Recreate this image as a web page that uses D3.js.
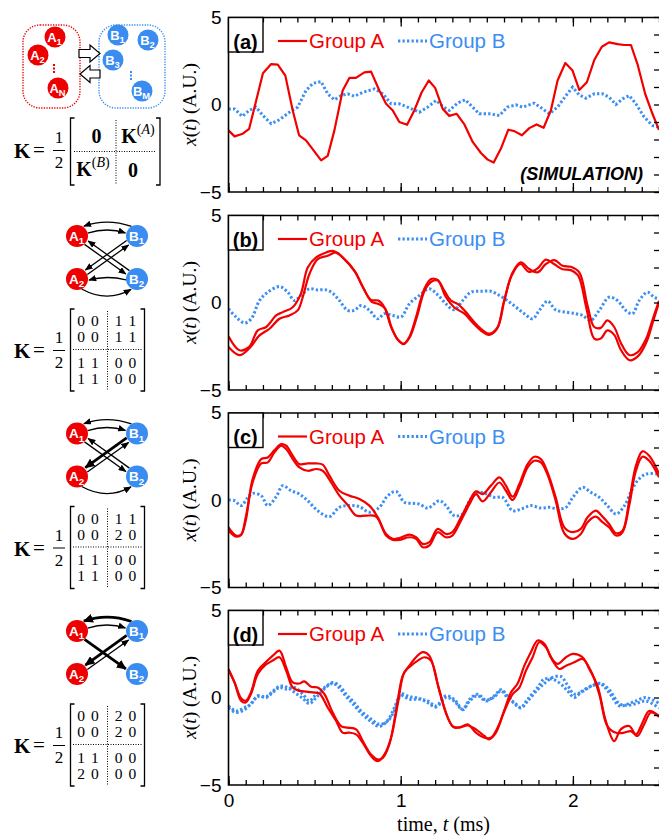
<!DOCTYPE html>
<html>
<head>
<meta charset="utf-8">
<script src="https://cdn.jsdelivr.net/npm/d3@7"></script>
<style>
  body { margin: 0; background: #fff; }
  svg { display: block; }
</style>
</head>
<body>
<svg id="fig" width="659" height="836"></svg>
<script>
/* ---------- data ---------- */
const timeTicks = [0, 1, 2];
const valueTicks = [-5, 0, 5];
const panelLabels = ["(a)", "(b)", "(c)", "(d)"];
const groupNames = ["Group A", "Group B"];

// [t (ms), x (A.U.)]
const aRedA = [[0,-1.48],[0.035,-1.82],[0.083,-1.67],[0.12,-1.39],[0.2,1.78],[0.248,2.31],[0.286,2.28],[0.33,1.65],[0.373,-0.34],[0.41,-1.76],[0.45,-2.05],[0.538,-3.19],[0.576,-2.94],[0.615,-1.48],[0.663,0.8],[0.702,1.52],[0.74,1.52],[0.789,1.84],[0.828,1.88],[0.876,0.8],[0.915,0.04],[0.954,-0.34],[0.992,-1.0],[1.037,-1.16],[1.079,-0.34],[1.122,0.7],[1.163,1.37],[1.2,0.95],[1.244,-0.25],[1.282,-0.65],[1.325,-0.53],[1.37,-1.14],[1.418,-2.14],[1.466,-2.77],[1.505,-3.15],[1.54,-3.32],[1.582,-2.52],[1.625,-1.44],[1.66,-1.52],[1.704,-1.76],[1.747,-1.35],[1.789,-1.14],[1.83,-1.33],[1.872,-0.34],[1.911,1.37],[1.956,2.37],[1.998,1.94],[2.037,0.83],[2.081,1.27],[2.124,2.54],[2.168,3.3],[2.21,3.55],[2.26,3.45],[2.298,3.4],[2.337,3.4],[2.375,2.31],[2.42,0.6],[2.462,-0.53],[2.5,-1.45]];
const aBlueB = [[0,-0.25],[0.035,-0.25],[0.08,-0.68],[0.12,-0.34],[0.16,-0.15],[0.2,-0.63],[0.248,-1.1],[0.296,-0.87],[0.354,-0.44],[0.402,-0.15],[0.45,0.8],[0.49,1.21],[0.538,1.31],[0.576,0.61],[0.615,0.27],[0.654,0.51],[0.692,0.61],[0.731,0.47],[0.78,0.7],[0.847,0.89],[0.896,0.61],[0.944,0.04],[0.992,0.04],[1.05,-0.19],[1.108,-0.44],[1.157,-0.15],[1.205,0.23],[1.244,-0.11],[1.282,-0.34],[1.33,0.08],[1.375,0.27],[1.418,-0.15],[1.456,-0.53],[1.514,-0.53],[1.573,-0.63],[1.62,-0.15],[1.669,-0.02],[1.708,-0.15],[1.776,0.08],[1.824,-0.25],[1.863,-0.53],[1.911,-0.15],[1.96,0.51],[1.998,0.99],[2.037,0.55],[2.075,0.36],[2.124,0.61],[2.172,0.61],[2.21,0.42],[2.25,0],[2.288,0.32],[2.327,0.51],[2.366,0.04],[2.414,-0.72],[2.462,-1.2],[2.5,-1.3]];

const bRedA1 = [[0,-1.93],[0.064,-2.73],[0.12,-2.54],[0.17,-1.59],[0.219,-1.4],[0.277,-0.74],[0.315,-0.55],[0.373,-0.27],[0.42,0.49],[0.46,2.0],[0.509,2.58],[0.567,2.86],[0.605,2.95],[0.663,2.58],[0.731,1.82],[0.78,0.87],[0.828,0.15],[0.87,0.11],[0.905,-0.27],[0.944,-1.4],[0.983,-2.12],[1.017,-2.35],[1.05,-1.97],[1.089,-0.83],[1.137,0.78],[1.176,1.34],[1.215,1.29],[1.253,0.68],[1.292,0.11],[1.33,-0.08],[1.37,-0.45],[1.418,-1.02],[1.466,-1.5],[1.514,-1.78],[1.563,-1.4],[1.602,0.11],[1.65,1.72],[1.698,2.29],[1.747,1.91],[1.795,1.72],[1.843,2.2],[1.892,2.42],[1.94,2.1],[1.988,2.04],[2.037,1.72],[2.085,-0.17],[2.124,-1.4],[2.162,-1.45],[2.2,-1.02],[2.24,-1.4],[2.278,-2.3],[2.327,-3.0],[2.375,-2.85],[2.424,-2.1],[2.462,-1.0],[2.5,0.1]];
const bRedA2 = [[0,-2.54],[0.064,-3.01],[0.12,-2.63],[0.18,-1.88],[0.238,-1.5],[0.296,-0.93],[0.354,-0.74],[0.402,-0.45],[0.431,0.3],[0.47,1.63],[0.518,2.48],[0.576,2.67],[0.625,2.86],[0.67,2.5],[0.735,1.75],[0.785,0.8],[0.83,0.05],[0.87,-0.08],[0.91,-0.35],[0.948,-1.45],[0.985,-2.15],[1.017,-2.38],[1.052,-2.0],[1.092,-0.9],[1.14,0.7],[1.18,1.2],[1.215,1.25],[1.263,0.3],[1.31,-0.27],[1.37,-0.64],[1.418,-1.15],[1.466,-1.6],[1.514,-1.85],[1.56,-1.5],[1.598,0.0],[1.645,1.55],[1.695,2.2],[1.745,1.75],[1.795,1.95],[1.843,2.45],[1.89,2.2],[1.94,1.9],[1.988,1.85],[2.03,1.55],[2.08,-0.4],[2.124,-2.06],[2.162,-2.06],[2.2,-1.59],[2.24,-1.85],[2.278,-2.7],[2.33,-3.3],[2.38,-3.05],[2.43,-2.2],[2.465,-1.1],[2.5,0.0]];
const bBlueB = [[0,-0.36],[0.044,-0.83],[0.093,-1.17],[0.132,-0.93],[0.18,0.11],[0.228,0.59],[0.296,0.91],[0.344,0.59],[0.383,0.11],[0.42,0.4],[0.47,0.78],[0.518,0.72],[0.567,0.72],[0.605,0.53],[0.644,0.11],[0.692,-0.45],[0.731,-0.45],[0.77,-0.17],[0.818,-0.45],[0.867,-0.93],[0.905,-0.64],[0.954,-0.74],[1.002,-0.83],[1.05,-0.08],[1.108,0.4],[1.166,0.78],[1.215,0.44],[1.263,-0.08],[1.31,-0.42],[1.36,0.11],[1.408,0.59],[1.466,0.64],[1.524,0.64],[1.573,0.4],[1.62,0.11],[1.67,-0.27],[1.718,-0.64],[1.766,-0.93],[1.805,-0.45],[1.853,0.08],[1.9,-0.42],[1.96,-0.55],[2.017,-0.64],[2.056,-0.74],[2.104,-1.02],[2.153,-0.45],[2.21,0.3],[2.259,0.11],[2.307,-0.45],[2.346,-0.64],[2.385,0.11],[2.433,0.59],[2.472,0.3],[2.5,0.21]];

const cRedA1 = [[0,-1.56],[0.044,-2.03],[0.073,-1.98],[0.1,-1.18],[0.14,1.2],[0.19,2.34],[0.228,2.43],[0.267,2.85],[0.306,3.19],[0.335,3.1],[0.373,2.53],[0.412,2.05],[0.46,2.09],[0.509,2.09],[0.547,2.02],[0.586,1.39],[0.644,0.53],[0.702,0.25],[0.76,0.06],[0.818,-0.32],[0.867,-0.99],[0.915,-1.94],[0.954,-2.22],[0.992,-2.17],[1.05,-1.98],[1.089,-2.13],[1.128,-2.51],[1.166,-2.41],[1.215,-1.65],[1.263,-1.94],[1.3,-1.84],[1.35,-0.99],[1.4,-0.04],[1.437,0.49],[1.476,0.34],[1.524,0.82],[1.573,1.29],[1.611,0.82],[1.65,0.19],[1.689,0.91],[1.737,2.05],[1.776,2.47],[1.814,2.34],[1.853,1.58],[1.9,0.15],[1.95,-1.56],[1.998,-1.84],[2.046,-1.65],[2.085,-0.99],[2.133,-0.61],[2.172,-0.95],[2.21,-1.37],[2.25,-1.9],[2.288,-1.75],[2.327,-0.04],[2.366,1.96],[2.404,2.78],[2.443,2.53],[2.5,1.5]];
const cRedA2 = [[0,-1.75],[0.044,-2.09],[0.073,-2.0],[0.1,-0.99],[0.14,1.0],[0.19,2.09],[0.228,2.15],[0.267,2.72],[0.306,3.1],[0.335,2.91],[0.373,2.34],[0.412,1.86],[0.46,1.67],[0.509,1.77],[0.547,1.67],[0.596,1.0],[0.644,0.25],[0.692,-0.29],[0.741,-0.89],[0.799,-0.89],[0.857,-0.95],[0.915,-2.03],[0.954,-2.28],[0.992,-2.28],[1.05,-2.13],[1.089,-2.22],[1.128,-2.7],[1.166,-2.6],[1.215,-1.84],[1.263,-2.13],[1.3,-2.03],[1.35,-1.18],[1.4,-0.23],[1.437,0.34],[1.476,-0.08],[1.524,0.44],[1.573,1.0],[1.611,0.53],[1.65,0.0],[1.689,0.72],[1.737,1.86],[1.776,2.24],[1.814,2.15],[1.853,1.44],[1.9,-0.04],[1.95,-1.9],[1.998,-2.22],[2.046,-1.94],[2.085,-1.27],[2.133,-0.95],[2.172,-1.27],[2.21,-1.56],[2.25,-2.03],[2.288,-1.84],[2.327,-0.32],[2.366,1.67],[2.404,2.47],[2.443,2.24],[2.5,1.3]];
const cBlueB = [[0,0],[0.035,-0.04],[0.073,-0.32],[0.11,0.11],[0.14,0.38],[0.19,0.25],[0.228,-0.32],[0.277,0.19],[0.315,0.82],[0.364,0.53],[0.412,0.34],[0.46,-0.04],[0.518,-0.61],[0.586,-0.95],[0.644,-0.42],[0.702,-0.32],[0.76,-0.38],[0.818,-0.7],[0.876,-0.42],[0.925,0.25],[0.973,0.49],[1.021,-0.13],[1.07,-0.19],[1.108,-0.23],[1.157,-0.46],[1.224,-0.04],[1.263,-0.32],[1.31,-0.89],[1.36,-0.8],[1.4,-0.04],[1.447,0.44],[1.5,0.34],[1.544,0.15],[1.592,0.15],[1.65,-0.61],[1.7,-0.51],[1.756,-0.32],[1.814,-0.46],[1.863,-0.42],[1.911,-0.51],[1.96,-0.42],[2.0,0.15],[2.056,0.72],[2.104,0.44],[2.153,0.15],[2.2,-0.32],[2.25,-0.8],[2.3,-0.32],[2.34,0.53],[2.375,1.1],[2.424,1.48],[2.5,1.48]];

const dRedA1 = [[0,1.57],[0.035,0.86],[0.073,-0.04],[0.1,-0.19],[0.13,0.29],[0.17,1.53],[0.21,1.95],[0.257,2.39],[0.296,2.68],[0.335,1.72],[0.373,0.86],[0.412,0.8],[0.44,0.92],[0.48,0.61],[0.518,0.57],[0.557,0.19],[0.605,-0.86],[0.654,-1.63],[0.692,-1.72],[0.741,-1.82],[0.78,-2.49],[0.828,-3.26],[0.867,-3.54],[0.896,-3.45],[0.934,-2.68],[0.973,-0.77],[1.012,1.25],[1.05,1.82],[1.089,2.3],[1.128,2.59],[1.166,2.39],[1.215,0.77],[1.263,-0.86],[1.3,-1.63],[1.34,-1.72],[1.389,-1.6],[1.437,-1.82],[1.486,-2.2],[1.514,-2.39],[1.553,-2.01],[1.6,-0.77],[1.64,0.29],[1.679,0.8],[1.718,1.82],[1.756,2.59],[1.795,3.26],[1.834,3.07],[1.873,2.3],[1.911,1.92],[1.96,2.3],[2.0,2.49],[2.056,2.3],[2.095,1.63],[2.143,0.67],[2.191,-1.34],[2.24,-2.49],[2.278,-1.82],[2.327,-1.63],[2.366,-2.11],[2.404,-1.44],[2.443,-0.77],[2.5,-1.05]];
const dRedA2 = [[0,1.63],[0.035,0.86],[0.073,-0.19],[0.1,-0.29],[0.13,0.19],[0.17,1.34],[0.21,1.82],[0.257,2.11],[0.296,2.3],[0.335,1.53],[0.373,0.57],[0.412,0.38],[0.45,0.34],[0.49,0.29],[0.528,0.23],[0.576,-0.57],[0.625,-1.34],[0.663,-2.01],[0.702,-2.01],[0.741,-2.11],[0.78,-2.59],[0.828,-3.35],[0.867,-3.64],[0.905,-3.26],[0.944,-2.3],[0.983,-0.38],[1.021,1.44],[1.06,1.82],[1.099,2.11],[1.137,2.3],[1.176,2.11],[1.224,0.38],[1.273,-1.15],[1.31,-1.72],[1.35,-1.68],[1.389,-1.53],[1.437,-2.01],[1.486,-2.3],[1.524,-2.3],[1.563,-1.72],[1.611,-0.57],[1.65,0.19],[1.689,0.57],[1.727,1.53],[1.766,2.3],[1.805,3.16],[1.843,2.87],[1.882,2.11],[1.921,1.63],[1.96,1.82],[2.008,2.01],[2.056,2.2],[2.104,1.53],[2.153,0.19],[2.2,-1.63],[2.25,-2.01],[2.298,-2.01],[2.337,-1.92],[2.375,-2.2],[2.414,-1.53],[2.453,-0.86],[2.5,-1.11]];
const dBlueB1 = [[0,-0.48],[0.044,-0.77],[0.093,-0.57],[0.13,-0.38],[0.17,0.1],[0.219,0],[0.257,0.29],[0.296,0.57],[0.335,0.48],[0.383,0.57],[0.431,0.19],[0.47,-0.19],[0.509,0.19],[0.557,0.57],[0.605,0.86],[0.644,0.67],[0.683,0.19],[0.721,-0.19],[0.77,-0.77],[0.818,-1.15],[0.876,-1.53],[0.925,-1.34],[0.963,-0.77],[1.002,0.1],[1.05,-0.1],[1.108,-0.1],[1.157,-0.19],[1.205,-0.48],[1.263,0.1],[1.31,-0.1],[1.36,-0.67],[1.4,-0.1],[1.447,0.19],[1.495,-0.15],[1.544,0.04],[1.582,0.38],[1.62,0],[1.66,-0.29],[1.698,-0.57],[1.737,-0.1],[1.795,0.57],[1.834,1.05],[1.882,1.05],[1.93,0.77],[1.969,0.38],[2.008,0],[2.056,0.38],[2.114,0.67],[2.162,0.77],[2.21,0.29],[2.27,-0.48],[2.317,-0.38],[2.366,-0.19],[2.424,0],[2.5,-0.34]];
const dBlueB2 = [[0,-0.6],[0.044,-0.85],[0.093,-0.7],[0.13,-0.35],[0.17,0.05],[0.219,0.05],[0.257,0.35],[0.296,0.65],[0.335,0.6],[0.383,0.3],[0.431,-0.05],[0.47,-0.35],[0.509,0.0],[0.557,0.5],[0.605,0.8],[0.644,0.55],[0.683,0.05],[0.721,-0.35],[0.77,-0.9],[0.818,-1.3],[0.876,-1.65],[0.925,-1.3],[0.963,-0.6],[1.002,0.2],[1.05,0.05],[1.108,-0.05],[1.157,-0.3],[1.205,-0.55],[1.263,0.0],[1.31,-0.2],[1.36,-0.7],[1.4,-0.2],[1.447,0.1],[1.495,-0.2],[1.544,0.1],[1.582,0.45],[1.62,0.1],[1.66,-0.35],[1.698,-0.6],[1.737,-0.2],[1.795,0.45],[1.834,0.8],[1.882,1.15],[1.93,1.2],[1.969,0.7],[2.008,0.2],[2.056,0.35],[2.114,0.7],[2.162,0.8],[2.21,0.45],[2.27,-0.35],[2.317,-0.45],[2.366,-0.35],[2.424,-0.2],[2.5,-0.6]];

// coupling matrices (rows receive from columns), order A1 A2 B1 B2
const matB = [[0,0,1,1],[0,0,1,1],[1,1,0,0],[1,1,0,0]];
const matC = [[0,0,1,1],[0,0,2,0],[1,1,0,0],[1,1,0,0]];
const matD = [[0,0,2,0],[0,0,2,0],[1,1,0,0],[2,0,0,0]];
const nodeNames = ["A1", "A2", "B1", "B2"];

/* ---------- setup ---------- */
const RED = "#f20000", BLUE = "#3b8ef2";
const SANS = "'Liberation Sans', Arial, Helvetica, sans-serif";
const SERIF = "'Liberation Serif', 'Times New Roman', serif";

const panels = [
    { red: [aRedA], blue: [aBlueB], curve: d3.curveLinear, mat: null },
    { red: [bRedA1, bRedA2], blue: [bBlueB], curve: d3.curveCatmullRom, mat: matB },
    { red: [cRedA1, cRedA2], blue: [cBlueB], curve: d3.curveCatmullRom, mat: matC },
    { red: [dRedA1, dRedA2], blue: [dBlueB1, dBlueB2], curve: d3.curveCatmullRom, mat: matD }
];
const panelTop = [17, 215, 412.5, 610];
const panelH = 175;

const svg = d3.select("#fig");
const defs = svg.append("defs");

const xScale = d3.scaleLinear().domain([0, 2.5]).range([228.5, 659]);
const yScale = d3.scaleLinear().domain([-5, 5]).range([panelH, 0]);
const minorT = d3.range(0, 26).map(i => i / 10);
const minorV = d3.range(-5, 6);

// arrow heads for the coupling diagrams
[["head1", 8, 6.5], ["head2", 10, 9]].forEach(([id, w, h]) => {
    defs.append("marker")
        .attr("id", id)
        .attr("viewBox", "0 0 10 10")
        .attr("preserveAspectRatio", "none")
        .attr("refX", 9).attr("refY", 5)
        .attr("markerUnits", "userSpaceOnUse")
        .attr("markerWidth", w).attr("markerHeight", h)
        .attr("orient", "auto")
        .append("path").attr("d", "M0,0L10,5L0,10z").attr("fill", "#000");
});

/* ---------- chart panels ---------- */
panels.forEach((p, i) => {
    const g = svg.append("g").attr("transform", `translate(0,${panelTop[i]})`);

    defs.append("clipPath").attr("id", `clip${i}`)
        .append("rect").attr("x", 228.5).attr("y", 0).attr("width", 440).attr("height", panelH);

    const line = d3.line().x(d => xScale(d[0])).y(d => yScale(d[1])).curve(p.curve);
    const plot = g.append("g").attr("clip-path", `url(#clip${i})`);

    p.blue.forEach(s => plot.append("path").datum(s).attr("d", line)
        .attr("fill", "none").attr("stroke", BLUE).attr("stroke-width", 3)
        .attr("stroke-dasharray", "2.3,2.2"));
    p.red.forEach(s => plot.append("path").datum(s).attr("d", line)
        .attr("fill", "none").attr("stroke", RED).attr("stroke-width", 2.2)
        .attr("stroke-linejoin", "round"));

    // frame (right edge falls outside the picture)
    g.append("path")
        .attr("d", `M661,0.5H228.5V${panelH}H661`)
        .attr("fill", "none").attr("stroke", "#000").attr("stroke-width", 1.6);

    // inward ticks
    const tickAxis = (axis, tr) => g.append("g").attr("transform", tr).call(axis)
        .call(s => s.select(".domain").remove())
        .call(s => s.selectAll("line").attr("stroke-width", 1.3));
    tickAxis(d3.axisTop(xScale).tickValues(minorT).tickSize(-5).tickFormat(""), "translate(0,0.5)");
    tickAxis(d3.axisTop(xScale).tickValues(timeTicks).tickSize(-9).tickFormat(""), "translate(0,0.5)");
    tickAxis(d3.axisBottom(xScale).tickValues(minorT).tickSize(-5).tickFormat(""), `translate(0,${panelH})`);
    tickAxis(d3.axisBottom(xScale).tickValues(timeTicks).tickSize(-9).tickFormat(""), `translate(0,${panelH})`);
    tickAxis(d3.axisRight(yScale).tickValues(minorV).tickSize(-5).tickFormat(""), "translate(659,0)");

    // y tick labels
    g.append("g").attr("transform", "translate(228.5,0)")
        .call(d3.axisLeft(yScale).tickValues(valueTicks).tickSize(0).tickPadding(7))
        .call(s => s.select(".domain").remove())
        .attr("font-family", SANS).attr("font-size", 19);

    // y title
    const yt = g.append("text")
        .attr("transform", `translate(196,${panelH / 2}) rotate(-90)`)
        .attr("text-anchor", "middle")
        .attr("font-family", SERIF).attr("font-size", 19.5);
    yt.append("tspan").attr("font-style", "italic").text("x");
    yt.append("tspan").text("(");
    yt.append("tspan").attr("font-style", "italic").text("t");
    yt.append("tspan").text(") (A.U.)");

    // panel tag
    g.append("rect").attr("x", 228.5).attr("y", 0.5).attr("width", 34.5).attr("height", 34.5)
        .attr("fill", "#fff").attr("stroke", "#000").attr("stroke-width", 1.4);
    g.append("text").attr("x", 245.5).attr("y", 31.5).attr("text-anchor", "middle")
        .attr("font-family", SANS).attr("font-weight", "bold").attr("font-size", 20)
        .text(panelLabels[i]);

    // legend
    const leg = [
        { x: 278, color: RED, dash: null, w: 2.2 },
        { x: 398, color: BLUE, dash: "2.3,2.2", w: 3 }
    ];
    leg.forEach((l, k) => {
        g.append("line").attr("x1", l.x).attr("x2", l.x + 29).attr("y1", 24).attr("y2", 24)
            .attr("stroke", l.color).attr("stroke-width", l.w).attr("stroke-dasharray", l.dash);
        g.append("text").attr("x", l.x + 31).attr("y", 31)
            .attr("font-family", SANS).attr("font-size", 20.5).attr("fill", l.color)
            .text(groupNames[k]);
    });

    if (i === 0) {
        g.append("text").attr("x", 643).attr("y", 163).attr("text-anchor", "end")
            .attr("font-family", SANS).attr("font-weight", "bold").attr("font-style", "italic")
            .attr("font-size", 18).text("(SIMULATION)");
    }
    if (i === 3) {
        g.append("g").attr("transform", `translate(0,${panelH})`)
            .call(d3.axisBottom(xScale).tickValues(timeTicks).tickSize(0).tickPadding(8.5).tickFormat(d3.format("d")))
            .call(s => s.select(".domain").remove())
            .attr("font-family", SANS).attr("font-size", 19);
        const xt = g.append("text").attr("x", 443.5).attr("y", panelH + 45.5)
            .attr("text-anchor", "middle").attr("font-family", SERIF).attr("font-size", 20);
        xt.append("tspan").text("time, ");
        xt.append("tspan").attr("font-style", "italic").text("t");
        xt.append("tspan").text(" (ms)");
    }
});

/* ---------- left-hand schematics ---------- */
function nodeLabel(g, cx, cy, letter, sub, size) {
    const t = g.append("text").attr("x", cx).attr("y", cy + size * 0.36)
        .attr("text-anchor", "middle").attr("fill", "#fff")
        .attr("font-family", SANS).attr("font-weight", "bold").attr("font-size", size);
    t.append("tspan").text(letter);
    t.append("tspan").attr("font-size", size * 0.72).attr("dy", size * 0.25).text(sub);
}
function node(g, cx, cy, r, name) {
    g.append("circle").attr("cx", cx).attr("cy", cy).attr("r", r)
        .attr("fill", name[0] === "A" ? "#ee0000" : "#3a8cf0");
    nodeLabel(g, cx - 0.5, cy, name[0], name.slice(1), 13.5);
}
function bracket(g, x0, x1, y0, y1) {
    g.append("path").attr("d", `M${x0 + 4},${y0}H${x0}V${y1}H${x0 + 4}M${x1 - 4},${y0}H${x1}V${y1}H${x1 - 4}`)
        .attr("fill", "none").attr("stroke", "#000").attr("stroke-width", 1.3);
}
function dotted(g, x1, y1, x2, y2) {
    g.append("line").attr("x1", x1).attr("y1", y1).attr("x2", x2).attr("y2", y2)
        .attr("stroke", "#000").attr("stroke-width", 1).attr("stroke-dasharray", "1,1.5");
}
function kHalf(g, yb) {
    g.append("text").attr("x", 14).attr("y", yb).attr("font-family", SERIF)
        .attr("font-weight", "bold").attr("font-size", 21).text("K");
    g.append("text").attr("x", 33).attr("y", yb - 1).attr("font-family", SERIF)
        .attr("font-size", 21).text("=");
    const frac = g.append("text").attr("text-anchor", "middle")
        .attr("font-family", SERIF).attr("font-size", 17);
    frac.append("tspan").attr("x", 59).attr("y", yb - 15).text("1");
    frac.append("tspan").attr("x", 59).attr("y", yb + 10).text("2");
    g.append("line").attr("x1", 53).attr("x2", 65).attr("y1", yb - 7.5).attr("y2", yb - 7.5)
        .attr("stroke", "#000").attr("stroke-width", 1);
}

// (a) two groups
{
    const g = svg.append("g");
    g.append("rect").attr("x", 23).attr("y", 25).attr("width", 57).attr("height", 83).attr("rx", 17)
        .attr("fill", "none").attr("stroke", RED).attr("stroke-width", 1.4).attr("stroke-dasharray", "1.3,1.3");
    g.append("rect").attr("x", 99).attr("y", 25).attr("width", 66).attr("height", 83).attr("rx", 17)
        .attr("fill", "none").attr("stroke", BLUE).attr("stroke-width", 1.4).attr("stroke-dasharray", "1.3,1.3");
    [["A1", 55, 37], ["A2", 38, 55], ["AN", 58, 88], ["B1", 118, 35], ["B2", 148, 40], ["B3", 113, 60], ["BM", 142, 91]]
        .forEach(([n, cx, cy]) => {
            g.append("circle").attr("cx", cx).attr("cy", cy).attr("r", 10.5)
                .attr("fill", n[0] === "A" ? "#ee0000" : "#3a8cf0");
            nodeLabel(g, cx - 0.5, cy, n[0], n.slice(1), 13);
        });
    g.append("line").attr("x1", 54).attr("x2", 54).attr("y1", 64).attr("y2", 73)
        .attr("stroke", "#ee0000").attr("stroke-width", 2).attr("stroke-dasharray", "2,1.5");
    g.append("line").attr("x1", 131).attr("x2", 131).attr("y1", 71).attr("y2", 80)
        .attr("stroke", "#3a8cf0").attr("stroke-width", 2).attr("stroke-dasharray", "2,1.5");
    g.append("polygon").attr("points", "79,49.5 90,49.5 90,45 100,53.5 90,62 90,57.5 79,57.5")
        .attr("fill", "#fff").attr("stroke", "#000").attr("stroke-width", 1.2);
    g.append("polygon").attr("points", "100,70 90,70 90,65.5 80,74 90,82.5 90,78 100,78")
        .attr("fill", "#fff").attr("stroke", "#000").attr("stroke-width", 1.2);

    kHalf(g, 158);
    bracket(g, 70.5, 160, 118, 185);
    dotted(g, 116, 120, 116, 184);
    dotted(g, 74, 151.5, 156, 151.5);
    const bold = (x, y, s, sup) => {
        const t = g.append("text").attr("x", x).attr("y", y).attr("text-anchor", "middle")
            .attr("font-family", SERIF).attr("font-size", 20);
        t.append("tspan").attr("font-weight", "bold").text(s);
        if (sup) {
            t.append("tspan").attr("font-size", 14).attr("dy", -9).text("(");
            t.append("tspan").attr("font-size", 14).attr("font-style", "italic").text(sup);
            t.append("tspan").attr("font-size", 14).text(")");
        }
    };
    bold(96.5, 143, "0");
    bold(138, 143, "K", "A");
    bold(93, 176, "K", "B");
    bold(133, 177, "0");
}

// (b)-(d) two-by-two couplings, drawn from the matrices
const R = 11;
const nodePos = { A1: [77, 21], A2: [77, 64], B1: [137, 21], B2: [137, 64] };
function onRim(n, deg, extra) {
    const [cx, cy] = nodePos[n], a = deg * Math.PI / 180;
    return [cx + (R + extra) * Math.cos(a), cy + (R + extra) * Math.sin(a)];
}
function arrowPath(from, to) {
    const arcs = {
        "B1>A1": [onRim("B1", -120, 0), [107, 3], onRim("A1", -55, 1)],
        "A1>B1": [onRim("A1", -15, 0), [107, 12], onRim("B1", -165, 1)],
        "B2>A2": [onRim("B2", 175, 0), [107, 60], onRim("A2", 5, 1)],
        "A2>B2": [onRim("A2", 65, 0), [107, 88], onRim("B2", 120, 1)]
    };
    const arc = arcs[from + ">" + to];
    if (arc) return `M${arc[0]}Q${arc[1]} ${arc[2]}`;
    const [x1, y1] = nodePos[from], [x2, y2] = nodePos[to];
    const L = Math.hypot(x2 - x1, y2 - y1), ux = (x2 - x1) / L, uy = (y2 - y1) / L;
    const px = -uy * 2.4, py = ux * 2.4; // the two directions run side by side
    return `M${x1 + ux * R + px},${y1 + uy * R + py}L${x2 - ux * (R + 1) + px},${y2 - uy * (R + 1) + py}`;
}

panels.slice(1).forEach((p, k) => {
    const g = svg.append("g").attr("transform", `translate(0,${panelTop[k + 1]})`);
    p.mat.forEach((row, i) => row.forEach((v, j) => {
        if (!v) return;
        g.append("path").attr("d", arrowPath(nodeNames[j], nodeNames[i]))
            .attr("fill", "none").attr("stroke", "#000")
            .attr("stroke-width", v === 2 ? 2.8 : 1.3)
            .attr("marker-end", `url(#${v === 2 ? "head2" : "head1"})`);
    }));
    nodeNames.forEach(n => node(g, nodePos[n][0], nodePos[n][1], R, n));

    kHalf(g, 143);
    bracket(g, 70.5, 144.5, 94, 176);
    dotted(g, 107.5, 96, 107.5, 175);
    dotted(g, 73, 134.5, 142, 134.5);
    // matrix entries: each row half as one string, rows spaced so the boxes just clear
    const halfX = [88, 125.5], rowY = [111, 127, 152.5, 168.5];
    p.mat.forEach((row, i) => [row.slice(0, 2), row.slice(2)].forEach((pair, h) => {
        g.append("text").attr("x", halfX[h]).attr("y", rowY[i]).attr("text-anchor", "middle")
            .attr("font-family", SERIF).attr("font-size", 15.5)
            .attr("word-spacing", 2).text(pair.join(" "));
    }));
});
</script>
</body>
</html>
